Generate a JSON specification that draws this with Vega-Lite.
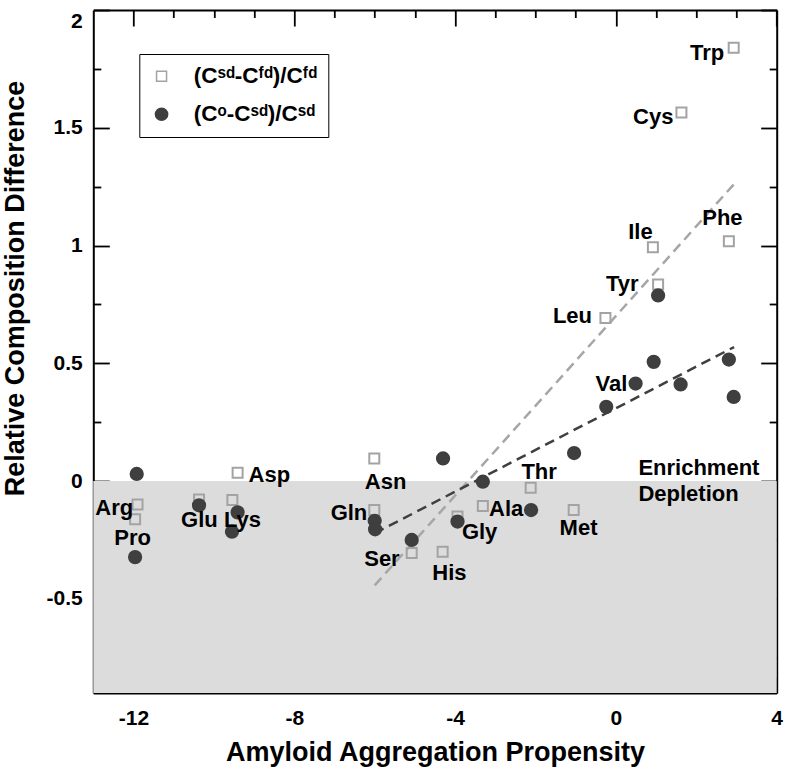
{
  "$schema": "https://vega.github.io/schema/vega-lite/v6.json",
  "width": 683.4,
  "height": 683,
  "autosize": {"type": "none"},
  "padding": {"left": 93.3, "top": 10, "right": 9.3, "bottom": 76},
  "background": "white",
  "config": {
    "view": {"stroke": null},
    "font": "Liberation Sans",
    "axis": {
      "grid": false,
      "domain": true,
      "domainColor": "black",
      "domainWidth": 2,
      "tickColor": "black",
      "tickWidth": 1.8,
      "labelFont": "Liberation Sans",
      "labelFontWeight": "bold",
      "labelFontSize": 21,
      "labelColor": "black",
      "titleFont": "Liberation Sans",
      "titleFontWeight": "bold",
      "titleColor": "black",
      "zindex": 1,
      "labelOverlap": false
    }
  },
  "datasets": {
    "pts": [
      {"aa": "Trp", "x": 2.93, "y": 1.84, "series": "sdfd"},
      {"aa": "Cys", "x": 1.63, "y": 1.565, "series": "sdfd"},
      {"aa": "Ile", "x": 0.92, "y": 0.993, "series": "sdfd"},
      {"aa": "Phe", "x": 2.81, "y": 1.018, "series": "sdfd"},
      {"aa": "Tyr", "x": 1.05, "y": 0.835, "series": "sdfd"},
      {"aa": "Leu", "x": -0.26, "y": 0.692, "series": "sdfd"},
      {"aa": "Asn", "x": -6.01, "y": 0.096, "series": "sdfd"},
      {"aa": "Thr", "x": -2.12, "y": -0.028, "series": "sdfd"},
      {"aa": "Ala", "x": -3.31, "y": -0.106, "series": "sdfd"},
      {"aa": "Gly", "x": -3.94, "y": -0.151, "series": "sdfd"},
      {"aa": "His", "x": -4.31, "y": -0.3, "series": "sdfd"},
      {"aa": "Ser", "x": -5.08, "y": -0.306, "series": "sdfd"},
      {"aa": "Met", "x": -1.05, "y": -0.123, "series": "sdfd"},
      {"aa": "Gln", "x": -6.01, "y": -0.123, "series": "sdfd"},
      {"aa": "Asp", "x": -9.41, "y": 0.035, "series": "sdfd"},
      {"aa": "Lys", "x": -9.54, "y": -0.08, "series": "sdfd"},
      {"aa": "Glu", "x": -10.37, "y": -0.078, "series": "sdfd"},
      {"aa": "Arg", "x": -11.9, "y": -0.1, "series": "sdfd"},
      {"aa": "Pro", "x": -11.96, "y": -0.162, "series": "sdfd"},
      {"aa": "Trp", "x": 2.93, "y": 0.357, "series": "osd"},
      {"aa": "Phe", "x": 2.81, "y": 0.516, "series": "osd"},
      {"aa": "Cys", "x": 1.61, "y": 0.41, "series": "osd"},
      {"aa": "Ile", "x": 0.94, "y": 0.506, "series": "osd"},
      {"aa": "Tyr", "x": 1.05, "y": 0.788, "series": "osd"},
      {"aa": "Val", "x": 0.49, "y": 0.414, "series": "osd"},
      {"aa": "Leu", "x": -0.24, "y": 0.315, "series": "osd"},
      {"aa": "Met", "x": -1.04, "y": 0.119, "series": "osd"},
      {"aa": "His", "x": -4.3, "y": 0.096, "series": "osd"},
      {"aa": "Ala", "x": -3.31, "y": -0.003, "series": "osd"},
      {"aa": "Thr", "x": -2.11, "y": -0.123, "series": "osd"},
      {"aa": "Gly", "x": -3.94, "y": -0.172, "series": "osd"},
      {"aa": "Ser", "x": -5.08, "y": -0.25, "series": "osd"},
      {"aa": "Gln", "x": -6.0, "y": -0.169, "series": "osd"},
      {"aa": "Asn", "x": -5.99, "y": -0.205, "series": "osd"},
      {"aa": "Asp", "x": -9.41, "y": -0.133, "series": "osd"},
      {"aa": "Lys", "x": -9.55, "y": -0.215, "series": "osd"},
      {"aa": "Glu", "x": -10.37, "y": -0.103, "series": "osd"},
      {"aa": "Arg", "x": -11.92, "y": 0.03, "series": "osd"},
      {"aa": "Pro", "x": -11.96, "y": -0.323, "series": "osd"}
    ],
    "fits": [
      {"x": -6.0, "y": -0.443, "fit": "fit_sdfd"},
      {"x": 2.94, "y": 1.261, "fit": "fit_sdfd"},
      {"x": -6.0, "y": -0.222, "fit": "fit_osd"},
      {"x": 2.94, "y": 0.569, "fit": "fit_osd"}
    ],
    "labels": [
      {"name": "Trp", "x": 2.27, "y": 1.819},
      {"name": "Cys", "x": 0.93, "y": 1.544},
      {"name": "Ile", "x": 0.61, "y": 1.056},
      {"name": "Phe", "x": 2.65, "y": 1.116},
      {"name": "Tyr", "x": 0.16, "y": 0.838},
      {"name": "Leu", "x": -1.08, "y": 0.7},
      {"name": "Val", "x": -0.11, "y": 0.414},
      {"name": "Asn", "x": -5.73, "y": -0.003},
      {"name": "Thr", "x": -1.91, "y": 0.039},
      {"name": "Ala", "x": -2.73, "y": -0.12},
      {"name": "Gly", "x": -3.39, "y": -0.215},
      {"name": "His", "x": -4.14, "y": -0.391},
      {"name": "Met", "x": -0.93, "y": -0.2},
      {"name": "Ser", "x": -5.82, "y": -0.332},
      {"name": "Gln", "x": -6.64, "y": -0.137},
      {"name": "Asp", "x": -8.62, "y": 0.025},
      {"name": "Glu", "x": -10.36, "y": -0.165},
      {"name": "Lys", "x": -9.29, "y": -0.165},
      {"name": "Arg", "x": -12.48, "y": -0.116},
      {"name": "Pro", "x": -12.02, "y": -0.243}
    ],
    "notes": [
      {"text": "Enrichment", "x": 0.56, "y": 0.054},
      {"text": "Depletion", "x": 0.56, "y": -0.055}
    ],
    "shade": [
      {"x0": -13, "x1": 4, "y0": -0.9, "y1": 0}
    ]
  },
  "layer": [
    {
      "data": {"name": "shade"},
      "mark": {"type": "rect", "color": "#dcdcdc"},
      "encoding": {
        "x": {
          "field": "x0", "type": "quantitative",
          "scale": {"domain": [-13, 4], "nice": false, "zero": false},
          "axis": {
            "orient": "top",
            "values": [-12, -11, -10, -9, -8, -7, -6, -5, -4, -3, -2, -1, 0, 1, 2, 3, 4],
            "tickSize": {"condition": {"test": "abs(datum.value) % 4 == 0", "value": -16}, "value": -7.5},
            "labels": false,
            "title": null
          }
        },
        "x2": {"field": "x1"},
        "y": {
          "field": "y0", "type": "quantitative",
          "scale": {"domain": [-0.9, 2], "nice": false, "zero": false},
          "axis": {
            "orient": "right",
            "values": [-0.75, -0.5, -0.25, 0, 0.25, 0.5, 0.75, 1, 1.25, 1.5, 1.75, 2],
            "tickSize": {"condition": {"test": "abs(datum.value * 2 - round(datum.value * 2)) < 0.001", "value": -16}, "value": -7.5},
            "labels": false,
            "title": null
          }
        },
        "y2": {"field": "y1"}
      }
    },
    {
      "data": {"name": "fits"},
      "mark": {"type": "line", "strokeDash": [10, 6], "strokeWidth": 2.5},
      "encoding": {
        "x": {"field": "x", "type": "quantitative", "scale": {"domain": [-13, 4], "nice": false, "zero": false}, "axis": null},
        "y": {"field": "y", "type": "quantitative", "scale": {"domain": [-0.9, 2], "nice": false, "zero": false}, "axis": null},
        "color": {"field": "fit", "type": "nominal", "scale": {"domain": ["fit_sdfd", "fit_osd"], "range": ["#a6a6a6", "#3f3f3f"]}, "legend": null},
        "detail": {"field": "fit"}
      }
    },
    {
      "data": {"name": "pts"},
      "mark": {"type": "point", "opacity": 1, "strokeWidth": 2},
      "encoding": {
        "x": {
          "field": "x", "type": "quantitative",
          "scale": {"domain": [-13, 4], "nice": false, "zero": false},
          "axis": {
            "orient": "bottom",
            "values": [-12, -11, -10, -9, -8, -7, -6, -5, -4, -3, -2, -1, 0, 1, 2, 3, 4],
            "tickSize": {"condition": {"test": "abs(datum.value) % 4 == 0", "value": -16}, "value": -7.5},
            "labelExpr": "abs(datum.value) % 4 == 0 ? '' + datum.value : ''",
            "labelPadding": 30,
            "labelFlush": false,
            "title": "Amyloid Aggregation Propensity",
            "titleFontSize": 27,
            "titleY": 59.5,
            "titleBaseline": "middle"
          }
        },
        "y": {
          "field": "y", "type": "quantitative",
          "scale": {"domain": [-0.9, 2], "nice": false, "zero": false},
          "axis": {
            "orient": "left",
            "values": [-0.75, -0.5, -0.25, 0, 0.25, 0.5, 0.75, 1, 1.25, 1.5, 1.75, 2],
            "tickSize": {"condition": {"test": "abs(datum.value * 2 - round(datum.value * 2)) < 0.001", "value": -16}, "value": -7.5},
            "labelExpr": "abs(datum.value * 2 - round(datum.value * 2)) < 0.001 ? '' + datum.value : ''",
            "labelPadding": 27,
            "labelFlush": true,
            "title": "Relative Composition Difference",
            "titleFontSize": 27,
            "titleX": -78,
            "titleY": 278,
            "titleAlign": "center",
            "titleBaseline": "middle",
            "titleAngle": -90
          }
        },
        "shape": {
          "field": "series", "type": "nominal",
          "scale": {"domain": ["sdfd", "osd"], "range": ["square", "circle"]},
          "legend": {
            "title": null,
            "orient": "none",
            "legendX": 46,
            "legendY": 44,
            "padding": 11,
            "strokeColor": "black",
            "fillColor": "white",
            "rowPadding": 15,
            "labelOffset": 21,
            "labelFont": "Liberation Sans",
            "labelFontWeight": "bold",
            "labelFontSize": 22.5,
            "labelColor": "black",
            "labelExpr": "datum.value == 'sdfd' ? '(Cˢᵈ-Cᶠᵈ)/Cᶠᵈ' : '(Cᵒ-Cˢᵈ)/Cˢᵈ'"
          }
        },
        "fill": {"field": "series", "type": "nominal", "scale": {"domain": ["sdfd", "osd"], "range": ["transparent", "#3f3f3f"]}},
        "stroke": {"field": "series", "type": "nominal", "scale": {"domain": ["sdfd", "osd"], "range": ["#a3a3a3", "#3f3f3f"]}},
        "size": {"field": "series", "type": "nominal", "scale": {"domain": ["sdfd", "osd"], "range": [100, 150]}}
      }
    },
    {
      "data": {"name": "labels"},
      "mark": {"type": "text", "font": "Liberation Sans", "fontWeight": "bold", "fontSize": 22, "color": "black", "align": "center", "baseline": "middle"},
      "encoding": {
        "x": {"field": "x", "type": "quantitative", "scale": {"domain": [-13, 4], "nice": false, "zero": false}, "axis": null},
        "y": {"field": "y", "type": "quantitative", "scale": {"domain": [-0.9, 2], "nice": false, "zero": false}, "axis": null},
        "text": {"field": "name"}
      }
    },
    {
      "data": {"name": "notes"},
      "mark": {"type": "text", "font": "Liberation Sans", "fontWeight": "bold", "fontSize": 22, "color": "black", "align": "left", "baseline": "middle"},
      "encoding": {
        "x": {"field": "x", "type": "quantitative", "scale": {"domain": [-13, 4], "nice": false, "zero": false}, "axis": null},
        "y": {"field": "y", "type": "quantitative", "scale": {"domain": [-0.9, 2], "nice": false, "zero": false}, "axis": null},
        "text": {"field": "text"}
      }
    }
  ],
  "resolve": {"axis": {"x": "independent", "y": "independent"}}
}
